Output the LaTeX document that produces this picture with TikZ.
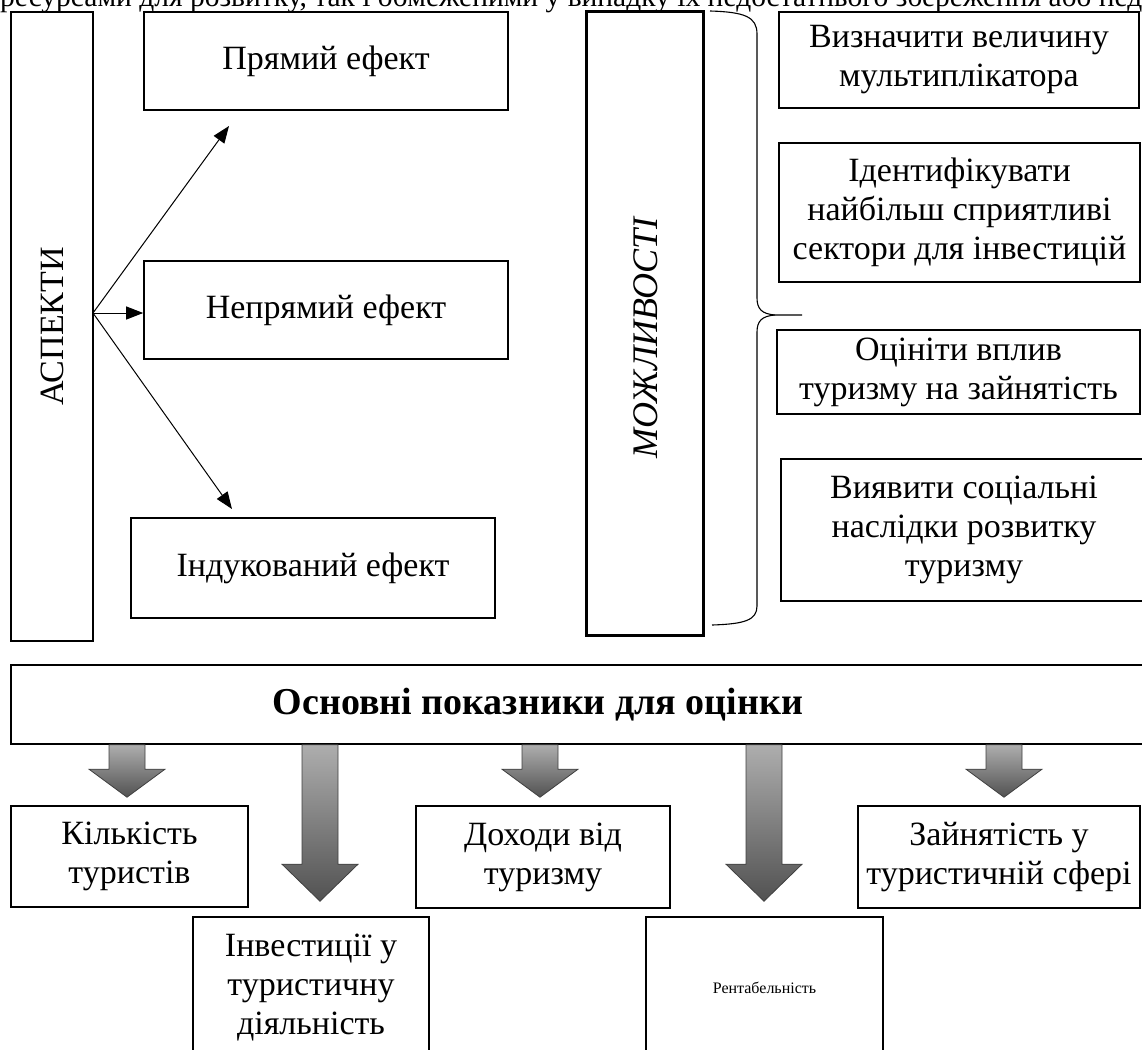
\documentclass[tikz,border=0pt]{standalone}
\usepackage{fontspec}
\usepackage{graphicx}
\setmainfont{Liberation Serif}
\usetikzlibrary{arrows.meta,calc}
\newcommand{\blkarr}[5]{% #1 source, #2 target, #3 x offset, #4 gap, #5 head length
  \path[blockarrow] let \p1=(#1.south), \p2=(#2.north) in
    ({\x2+#3-18},{\y1}) -- ({\x2+#3+18},{\y1}) -- ({\x2+#3+18},{\y2+#4+#5})
    -- ({\x2+#3+38},{\y2+#4+#5}) -- ({\x2+#3},{\y2+#4}) -- ({\x2+#3-38},{\y2+#4+#5})
    -- ({\x2+#3-18},{\y2+#4+#5}) -- cycle;}
\begin{document}
\begin{tikzpicture}[x=1pt,y=-1pt,
  txt/.style={font=\fontsize{34}{39}\selectfont},
  box/.style={draw=black,line width=1.6pt,inner sep=0pt,align=center,txt},
  thickbox/.style={box,line width=3pt},
  thinarrow/.style={line width=1pt,-{Triangle[length=17pt,width=13pt]}},
  bracestyle/.style={line width=1.1pt},
  blockarrow/.style={draw=black!75,line width=0.8pt,top color=black!32,bottom color=black!68}]
\useasboundingbox (0,0) rectangle (1142,1049);
\clip (0,0) rectangle (1142,1049);

% partial top text line
\node[font=\fontsize{29.5}{34}\selectfont,anchor=base west,inner sep=0pt] (toptext) at (0,7) {ресурсами для розвитку, так і обмеженими у випадку їх недостатнього збереження або нед};

% left part
\node[box,minimum width=82pt,minimum height=629pt] (asp) at (52,326.5) {\rotatebox{90}{АСПЕКТИ}};
\node[box,minimum width=364pt,minimum height=98pt] (pr) at (326,61) {Прямий ефект};
\node[box,minimum width=364pt,minimum height=98pt] (nep) at (326,310) {Непрямий ефект};
\node[box,minimum width=364pt,minimum height=100pt] (ind) at (313,568) {Індукований ефект};

\coordinate (src) at (93,313);
\coordinate (tpr) at (229,126);
\coordinate (tind) at (232,509);
\draw[thinarrow] (src) -- (tpr);
\draw[thinarrow] (src) -- (src -| nep.west);
\draw[thinarrow] (src) -- (tind);

% middle
\node[thickbox,minimum width=117pt,minimum height=623pt] (mozh) at (644.5,323.5) {};
\node[font=\fontsize{36}{40}\selectfont\itshape,inner sep=0pt,rotate=90] (mozhtext) at (646,338) {МОЖЛИВОСТІ};

% brace
\draw[bracestyle] (710,11) .. controls (745,12) and (757,17) .. (757,34) -- (757,298)
  .. controls (757,309) and (762,314) .. (775,315) -- (802,315);
\draw[bracestyle] (775,315) .. controls (762,316) and (757,321) .. (757,332) -- (757,606)
  .. controls (757,620) and (745,624) .. (712,625);

% right boxes
\node[box,minimum width=360pt,minimum height=96pt] (r1) at (959,60) {Визначити величину\\мультиплікатора};
\node[box,minimum width=361pt,minimum height=139pt] (r2) at (959.5,212.5) {Ідентифікувати\\найбільш сприятливі\\сектори для інвестицій};
\node[box,minimum width=363pt,minimum height=84pt] (r3) at (958.5,372) {Оцініти вплив\\туризму на зайнятість};
\node[box,minimum width=366pt,minimum height=142pt] (r4) at (964,530) {Виявити соціальні\\наслідки розвитку\\туризму};

% main indicator box
\node[box,minimum width=1150pt,minimum height=79pt] (osn) at (586,704.5) {};
\node[font=\fontsize{38}{42}\selectfont\bfseries,inner sep=0pt] (osntext) at (538,704.5) {Основні показники для оцінки};

% indicator boxes
\node[box,minimum width=237pt,minimum height=101pt] (kil) at (129.5,856.5) {Кількість\\туристів};
\node[box,minimum width=254pt,minimum height=102pt] (doh) at (543,857) {Доходи від\\туризму};
\node[box,minimum width=282pt,minimum height=102pt] (zay) at (999,857) {Зайнятість у\\туристичній сфері};
\node[box,minimum width=236pt,minimum height=142pt] (inv) at (311,988) {Інвестиції у\\туристичну\\діяльність};
\node[box,minimum width=237pt,minimum height=142pt,font=\fontsize{16}{19}\selectfont] (ren) at (764.5,988) {Рентабельність};

% block arrows
\blkarr{osn}{kil}{-2.5}{8}{28}
\blkarr{osn}{inv}{9}{15}{37}
\blkarr{osn}{doh}{-3}{8}{28}
\blkarr{osn}{ren}{-0.5}{15}{37}
\blkarr{osn}{zay}{5}{8}{28}
\end{tikzpicture}
\end{document}
